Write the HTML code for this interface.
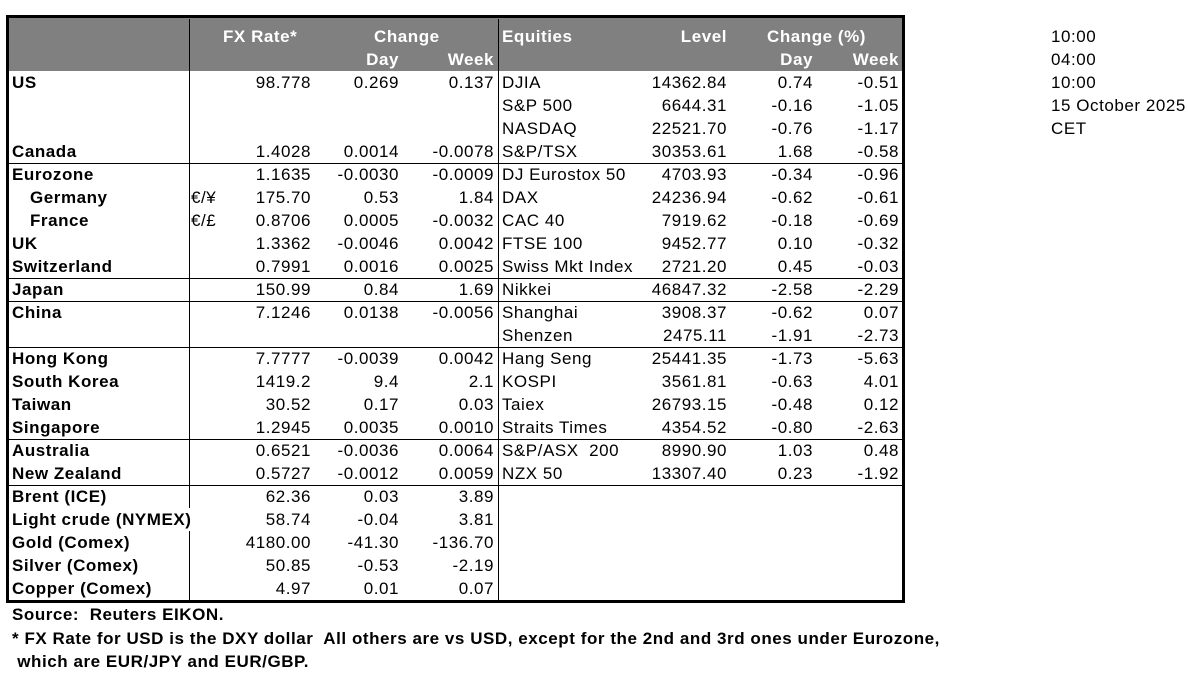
<!DOCTYPE html>
<html><head><meta charset="utf-8"><style>
body{margin:0;width:1188px;height:683px;background:#fff;position:relative;overflow:hidden;font-family:"Liberation Sans",Arial,sans-serif;font-size:17px;letter-spacing:0.55px;color:#000}
.row{position:absolute;left:0;width:1188px;height:23px;line-height:23px}
.row span{position:absolute;top:0;white-space:nowrap}
.b{font-weight:bold}
.a{right:877px}.c{right:789px}.d{right:694px}.e{left:502px}.f{right:461px}.g{right:375px}.h{right:289px}.n{left:12px;font-weight:bold}
.hl{position:absolute;left:8px;width:896px;height:1px;background:#000}
.vl{position:absolute;top:19px;width:1px;height:582px;background:#000}
.w{color:#fff;font-weight:bold}
</style></head><body>
<div style="position:absolute;left:6px;top:15px;width:893px;height:582px;border:3px solid #000"></div>
<div style="position:absolute;left:9px;top:18px;width:893px;height:53px;background:#808080"></div>
<div class="vl" style="left:189px"></div>
<div class="vl" style="left:498px"></div>
<div class="hl" style="top:163px"></div>
<div class="hl" style="top:278px"></div>
<div class="hl" style="top:301px"></div>
<div class="hl" style="top:347px"></div>
<div class="hl" style="top:439px"></div>
<div class="hl" style="top:485px"></div>

<div class="row" style="top:25px"><span class="w" style="left:223px">FX Rate*</span><span class="w" style="left:374px">Change</span><span class="w e">Equities</span><span class="w f">Level</span><span class="w" style="left:767px">Change (%)</span></div>
<div class="row" style="top:48px"><span class="w c">Day</span><span class="w d">Week</span><span class="w g">Day</span><span class="w h">Week</span></div>

<div class="row" style="top:71px"><span class="n">US</span><span class="a">98.778</span><span class="c">0.269</span><span class="d">0.137</span><span class="e">DJIA</span><span class="f">14362.84</span><span class="g">0.74</span><span class="h">-0.51</span></div>
<div class="row" style="top:94px"><span class="e">S&amp;P 500</span><span class="f">6644.31</span><span class="g">-0.16</span><span class="h">-1.05</span></div>
<div class="row" style="top:117px"><span class="e">NASDAQ</span><span class="f">22521.70</span><span class="g">-0.76</span><span class="h">-1.17</span></div>
<div class="row" style="top:140px"><span class="n">Canada</span><span class="a">1.4028</span><span class="c">0.0014</span><span class="d">-0.0078</span><span class="e">S&amp;P/TSX</span><span class="f">30353.61</span><span class="g">1.68</span><span class="h">-0.58</span></div>
<div class="row" style="top:163px"><span class="n">Eurozone</span><span class="a">1.1635</span><span class="c">-0.0030</span><span class="d">-0.0009</span><span class="e">DJ Eurostox 50</span><span class="f">4703.93</span><span class="g">-0.34</span><span class="h">-0.96</span></div>
<div class="row" style="top:186px"><span class="b" style="left:30px">Germany</span><span style="left:191px">€/¥</span><span class="a">175.70</span><span class="c">0.53</span><span class="d">1.84</span><span class="e">DAX</span><span class="f">24236.94</span><span class="g">-0.62</span><span class="h">-0.61</span></div>
<div class="row" style="top:209px"><span class="b" style="left:30px">France</span><span style="left:191px">€/£</span><span class="a">0.8706</span><span class="c">0.0005</span><span class="d">-0.0032</span><span class="e">CAC 40</span><span class="f">7919.62</span><span class="g">-0.18</span><span class="h">-0.69</span></div>
<div class="row" style="top:232px"><span class="n">UK</span><span class="a">1.3362</span><span class="c">-0.0046</span><span class="d">0.0042</span><span class="e">FTSE 100</span><span class="f">9452.77</span><span class="g">0.10</span><span class="h">-0.32</span></div>
<div class="row" style="top:255px"><span class="n">Switzerland</span><span class="a">0.7991</span><span class="c">0.0016</span><span class="d">0.0025</span><span class="e">Swiss Mkt Index</span><span class="f">2721.20</span><span class="g">0.45</span><span class="h">-0.03</span></div>
<div class="row" style="top:278px"><span class="n">Japan</span><span class="a">150.99</span><span class="c">0.84</span><span class="d">1.69</span><span class="e">Nikkei</span><span class="f">46847.32</span><span class="g">-2.58</span><span class="h">-2.29</span></div>
<div class="row" style="top:301px"><span class="n">China</span><span class="a">7.1246</span><span class="c">0.0138</span><span class="d">-0.0056</span><span class="e">Shanghai</span><span class="f">3908.37</span><span class="g">-0.62</span><span class="h">0.07</span></div>
<div class="row" style="top:324px"><span class="e">Shenzen</span><span class="f">2475.11</span><span class="g">-1.91</span><span class="h">-2.73</span></div>
<div class="row" style="top:347px"><span class="n">Hong Kong</span><span class="a">7.7777</span><span class="c">-0.0039</span><span class="d">0.0042</span><span class="e">Hang Seng</span><span class="f">25441.35</span><span class="g">-1.73</span><span class="h">-5.63</span></div>
<div class="row" style="top:370px"><span class="n">South Korea</span><span class="a">1419.2</span><span class="c">9.4</span><span class="d">2.1</span><span class="e">KOSPI</span><span class="f">3561.81</span><span class="g">-0.63</span><span class="h">4.01</span></div>
<div class="row" style="top:393px"><span class="n">Taiwan</span><span class="a">30.52</span><span class="c">0.17</span><span class="d">0.03</span><span class="e">Taiex</span><span class="f">26793.15</span><span class="g">-0.48</span><span class="h">0.12</span></div>
<div class="row" style="top:416px"><span class="n">Singapore</span><span class="a">1.2945</span><span class="c">0.0035</span><span class="d">0.0010</span><span class="e">Straits Times</span><span class="f">4354.52</span><span class="g">-0.80</span><span class="h">-2.63</span></div>
<div class="row" style="top:439px"><span class="n">Australia</span><span class="a">0.6521</span><span class="c">-0.0036</span><span class="d">0.0064</span><span class="e">S&amp;P/ASX&nbsp; 200</span><span class="f">8990.90</span><span class="g">1.03</span><span class="h">0.48</span></div>
<div class="row" style="top:462px"><span class="n">New Zealand</span><span class="a">0.5727</span><span class="c">-0.0012</span><span class="d">0.0059</span><span class="e">NZX 50</span><span class="f">13307.40</span><span class="g">0.23</span><span class="h">-1.92</span></div>
<div class="row" style="top:485px"><span class="n">Brent (ICE)</span><span class="a">62.36</span><span class="c">0.03</span><span class="d">3.89</span></div>
<div class="row" style="top:508px"><span class="n" style="background:#fff">Light crude (NYMEX)</span><span class="a">58.74</span><span class="c">-0.04</span><span class="d">3.81</span></div>
<div class="row" style="top:531px"><span class="n">Gold (Comex)</span><span class="a">4180.00</span><span class="c">-41.30</span><span class="d">-136.70</span></div>
<div class="row" style="top:554px"><span class="n">Silver (Comex)</span><span class="a">50.85</span><span class="c">-0.53</span><span class="d">-2.19</span></div>
<div class="row" style="top:577px"><span class="n">Copper (Comex)</span><span class="a">4.97</span><span class="c">0.01</span><span class="d">0.07</span></div>

<div class="row b" style="top:603px"><span style="left:12px">Source:&nbsp; Reuters EIKON.</span></div>
<div class="row b" style="top:627px"><span style="left:12px">* FX Rate for USD is the DXY dollar&nbsp; All others are vs USD, except for the 2nd and 3rd ones under Eurozone,</span></div>
<div class="row b" style="top:650px"><span style="left:12px">&nbsp;which are EUR/JPY and EUR/GBP.</span></div>

<div class="row" style="top:25px"><span style="left:1051px">10:00</span></div>
<div class="row" style="top:48px"><span style="left:1051px">04:00</span></div>
<div class="row" style="top:71px"><span style="left:1051px">10:00</span></div>
<div class="row" style="top:94px"><span style="left:1051px">15 October 2025</span></div>
<div class="row" style="top:117px"><span style="left:1051px">CET</span></div>
</body></html>
